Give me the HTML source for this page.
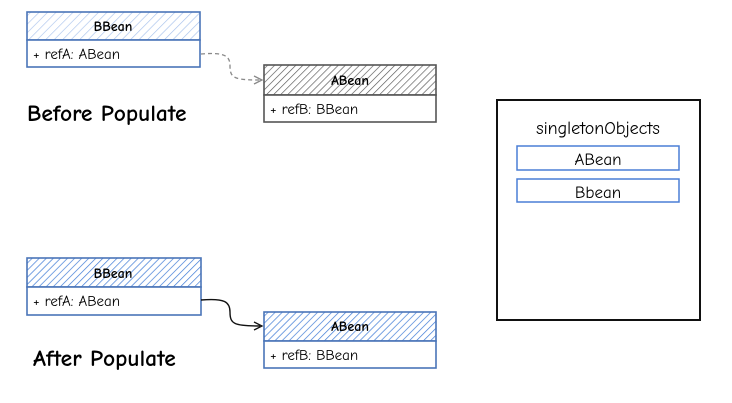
<!DOCTYPE html>
<html><head><meta charset="utf-8"><style>
html,body{margin:0;padding:0;background:#fff;width:732px;height:403px;overflow:hidden}
text{font-family:"Comic Sans MS","Comic Neue","Liberation Sans",sans-serif}
</style></head><body>
<svg width="732" height="403" viewBox="0 0 732 403" xmlns="http://www.w3.org/2000/svg">
<defs>
<pattern id="hl" patternUnits="userSpaceOnUse" width="6" height="6" patternTransform="rotate(45)"><line x1="0" y1="0" x2="0" y2="6" stroke="#a9c3ec" stroke-width="1.3"/></pattern>
<pattern id="hg" patternUnits="userSpaceOnUse" width="5" height="5" patternTransform="rotate(45)"><line x1="0" y1="0" x2="0" y2="5" stroke="#555" stroke-width="1.3"/></pattern>
<pattern id="hb" patternUnits="userSpaceOnUse" width="5" height="5" patternTransform="rotate(45)"><line x1="0" y1="0" x2="0" y2="5" stroke="#3f7bd6" stroke-width="1.4"/></pattern>
</defs>
<rect x="27" y="12" width="173" height="28" fill="url(#hl)" stroke="#4a74b8" stroke-width="1.6"/>
<rect x="27" y="40" width="173" height="27" fill="#fff" stroke="#4a74b8" stroke-width="1.6"/>
<text x="113" y="31" font-size="14" font-weight="bold" text-anchor="middle">BBean</text>
<text x="33" y="59" font-size="15">+ refA: ABean</text>
<rect x="264" y="65" width="172" height="30" fill="url(#hg)" stroke="#555" stroke-width="1.6"/>
<rect x="264" y="95" width="172" height="27" fill="#fff" stroke="#555" stroke-width="1.6"/>
<text x="350" y="85" font-size="14" font-weight="bold" text-anchor="middle">ABean</text>
<text x="270" y="114" font-size="15">+ refB: BBean</text>
<path d="M201 54 C225 52 230 56 230 66 C230 78 234 80 260 80" fill="none" stroke="#888" stroke-width="1.3" stroke-dasharray="4 3"/>
<path d="M254 76 L262 80 L254 84" fill="none" stroke="#888" stroke-width="1.3"/>
<text x="27" y="121" font-size="23.5" font-weight="bold">Before Populate</text>
<rect x="27" y="258" width="174" height="29" fill="url(#hb)" stroke="#4a74b8" stroke-width="1.6"/>
<rect x="27" y="287" width="174" height="28" fill="#fff" stroke="#4a74b8" stroke-width="1.6"/>
<text x="113" y="278" font-size="14" font-weight="bold" text-anchor="middle">BBean</text>
<text x="33" y="306" font-size="15">+ refA: ABean</text>
<rect x="264" y="312" width="172" height="29" fill="url(#hb)" stroke="#4a74b8" stroke-width="1.6"/>
<rect x="264" y="341" width="172" height="27" fill="#fff" stroke="#4a74b8" stroke-width="1.6"/>
<text x="350" y="331" font-size="14" font-weight="bold" text-anchor="middle">ABean</text>
<text x="270" y="360" font-size="15">+ refB: BBean</text>
<path d="M201 300 C225 298 230 302 230 312 C230 324 234 326 260 326" fill="none" stroke="#111" stroke-width="1.4"/>
<path d="M254 322 L262 326 L254 330" fill="none" stroke="#111" stroke-width="1.3"/>
<text x="33" y="366" font-size="23.5" font-weight="bold">After Populate</text>
<rect x="497" y="100" width="203" height="220" fill="#fff" stroke="#111" stroke-width="2"/>
<text x="598" y="134" font-size="18" text-anchor="middle">singletonObjects</text>
<rect x="517" y="146" width="162" height="24" fill="#fff" stroke="#4a7ed6" stroke-width="1.5"/>
<text x="598" y="165" font-size="17" text-anchor="middle">ABean</text>
<rect x="517" y="179" width="162" height="23" fill="#fff" stroke="#4a7ed6" stroke-width="1.5"/>
<text x="598" y="198" font-size="17" text-anchor="middle">Bbean</text>
</svg>
</body></html>
